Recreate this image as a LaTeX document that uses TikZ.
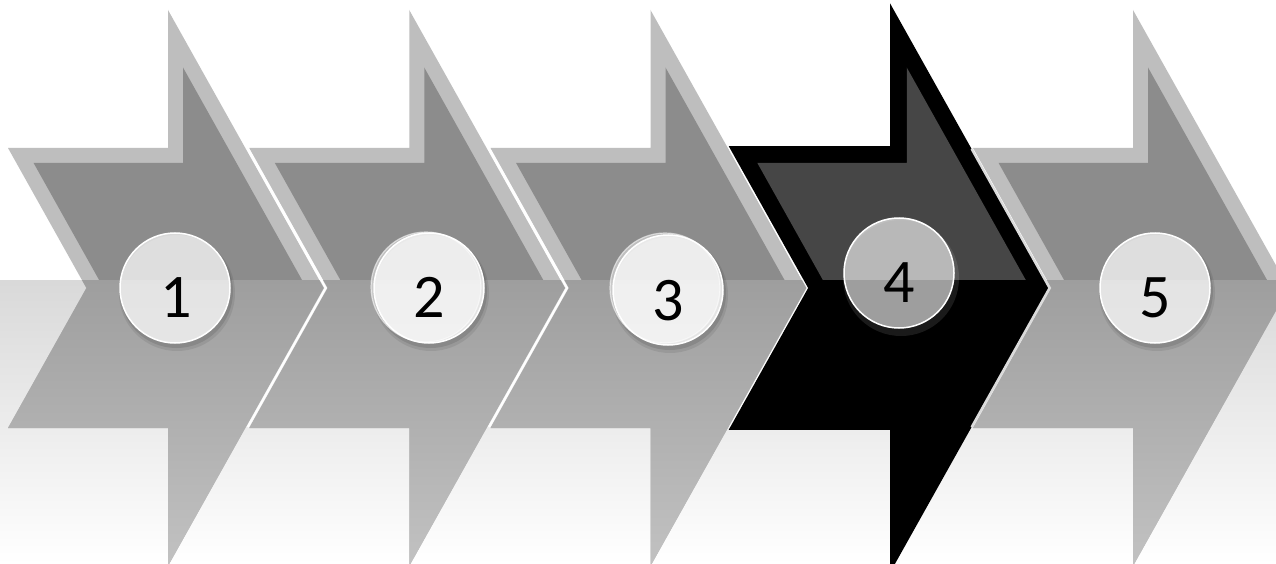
\documentclass[tikz,border=0pt]{standalone}
\usepackage{fontspec}
\setmainfont{Carlito}
\definecolor{outerg}{gray}{0.745}
\definecolor{innerg}{gray}{0.55}
\definecolor{lowtop}{gray}{0.62}
\definecolor{lowbot}{gray}{0.76}
\definecolor{innerb}{gray}{0.275}
\definecolor{bgtop}{gray}{0.85}
\definecolor{bgmid}{gray}{0.95}
\definecolor{gapb}{gray}{0.86}
\newcommand\arrowpath{(-160,-140) -- (0,-140) -- (0,-278) -- (155.7,0) -- (0,278) -- (0,140) -- (-160,140) -- (-81.6,0) -- cycle}
\newcommand\procarrow[5]{%
\begin{scope}[shift={(#1,288)}]
  \fill[#2] (-160,-140) -- (0,-140) -- (0,-278) -- (155.7,0) -- (0,278) -- (0,140) -- (-160,140) -- (-81.6,0) -- cycle;
  \begin{scope}
    \clip (-170,-300) rectangle (170,-8);
    \fill[#3] (-134.4,-125) -- (15,-125) -- (15,-220.5) -- (138.5,0) -- (15,220.5) -- (15,125) -- (-134.4,125) -- (-64.4,0) -- cycle;
  \end{scope}
  \begin{scope}
    \clip (-160,-140) -- (0,-140) -- (0,-278) -- (155.7,0) -- (0,278) -- (0,140) -- (-160,140) -- (-81.6,0) -- cycle;
    \shade[top color=#4, bottom color=#5] (-170,-8) rectangle (170,280);
  \end{scope}
\end{scope}}
\newcommand\gapline[2]{%
\begin{scope}[shift={(#1,288)}]
  \draw[#2, line width=2.2, line join=miter] (79.8,-139) -- (157.7,0) -- (79.8,139);
\end{scope}}
\begin{document}
\begin{tikzpicture}[x=1pt,y=-1pt,
  circ/.style={circle, minimum size=110pt, inner sep=0pt, fill=white, fill opacity=0.72, draw=white, draw opacity=1, line width=1.5pt},
  ghost/.style={white, opacity=0.55, line width=1.2pt},
  num/.style={anchor=base, inner sep=0pt, font=\fontsize{62}{62}\selectfont, text=black}]
\useasboundingbox (0,0) rectangle (1276,564);
\fill[white] (0,0) rectangle (1276,564);
\shade[top color=bgtop, middle color=bgmid, bottom color=white] (0,280) rectangle (1276,564);
% arrows
\procarrow{168}{outerg}{innerg}{lowtop}{lowbot}
\procarrow{409.25}{outerg}{innerg}{lowtop}{lowbot}
\procarrow{650.5}{outerg}{innerg}{lowtop}{lowbot}
\procarrow{1133}{outerg}{innerg}{lowtop}{lowbot}
\gapline{168}{white}
\gapline{409.25}{white}
\gapline{650.5}{white}
% highlighted arrow 4
\begin{scope}[shift={(891.75,288)}]
  \draw[black, line width=3.5, miter limit=10] \arrowpath;
\end{scope}
\procarrow{891.75}{black}{innerb}{black}{black}
\gapline{891.75}{gapb}
% circle shadows (outside the circles only)
\foreach \cx/\cy in {175/288, 429/288, 668/290, 1155/288}{
  \fill[black, opacity=0.08, even odd rule] (\cx+2,\cy+5) circle (58) (\cx,\cy) circle (55);
  \fill[black, opacity=0.10, even odd rule] (\cx+1.5,\cy+3.5) circle (56.5) (\cx,\cy) circle (55);
}
\fill[white, opacity=0.10, even odd rule] (901,278) circle (58) (899,273) circle (55);
\fill[white, opacity=0.45] (426,287) circle (55);
\fill[white, opacity=0.45] (665,288) circle (55);
\draw[ghost] (426,287) circle (55);
\draw[ghost] (665,288) circle (55);
\node[circ] (c1) at (175,288) {};
\node[circ] (c2) at (429,288) {};
\node[circ] (c3) at (668,290) {};
\node[circ, fill opacity=0.62] (c4) at (899,273) {};
\node[circ] (c5) at (1155,288) {};
\node[num] (n1) at (176,317) {1};
\node[num] (n2) at (429,317) {2};
\node[num] (n3) at (668,320) {3};
\node[num] (n4) at (899,302) {4};
\node[num] (n5) at (1155,317) {5};
\end{tikzpicture}
\end{document}
